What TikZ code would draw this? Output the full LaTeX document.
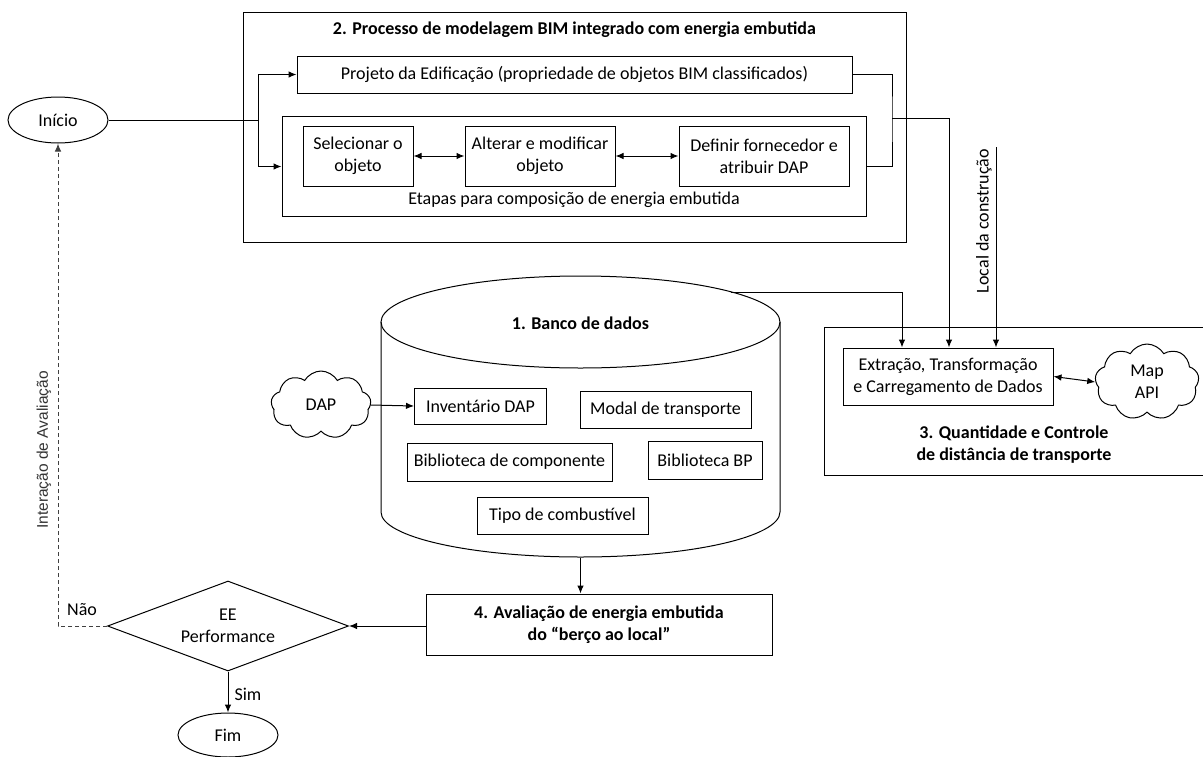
\documentclass[tikz,border=0pt]{standalone}
\usepackage{fontspec}
\setmainfont{Carlito}
\newfontfamily\labelfont{Liberation Sans}
\usetikzlibrary{arrows.meta,shapes.geometric,shapes.symbols}

\begin{document}
\begin{tikzpicture}[x=1pt,y=-1pt,
  line width=1pt,
  font=\fontsize{18}{22}\selectfont,
  box/.style={draw, rectangle, inner sep=0pt, align=center},
  arr/.style={-{Latex[length=8pt,width=6.5pt]}},
  darr/.style={{Latex[length=8pt,width=6.5pt]}-{Latex[length=8pt,width=6.5pt]}},
  term/.style={draw, ellipse, inner sep=0pt},
  cloudy/.style={draw, cloud, cloud puffs=9, cloud puff arc=120, aspect=1.4, inner sep=0pt, align=center},
  heading/.style={font=\fontsize{18}{22}\selectfont\bfseries, align=center},
  plain/.style={inner sep=0pt, align=center},
]
\useasboundingbox (0,0) rectangle (1203,756);

% ---- start terminal
\node[term, minimum width=100pt, minimum height=46pt] (ini) at (58,120) {Início};

% ---- 2. BIM modelling process
\draw (243,12) rectangle (906,242);
\node[heading] (t2) at (574.5,30) {2. Processo de modelagem BIM integrado com energia embutida};
\node[box, minimum width=555pt, minimum height=37pt] (proj) at (574.5,74.5)
  {Projeto da Edificação (propriedade de objetos BIM classificados)};
\node[box, minimum width=584pt, minimum height=100pt] (etapas) at (574,166.5) {};
\node[plain] (etcap) at (574,200) {Etapas para composição de energia embutida};
\node[box, minimum width=110pt, minimum height=60pt] (sel) at (358,156) {Selecionar o\\objeto};
\node[box, minimum width=150pt, minimum height=60pt] (alt) at (540,156) {Alterar e modificar\\objeto};
\node[box, minimum width=170pt, minimum height=60pt] (def) at (764,156) {Definir fornecedor e\\atribuir DAP};
\draw[darr] (sel.east) -- (alt.west);
\draw[darr] (alt.east) -- (def.west);

% split from the start terminal into both branches
\coordinate (jl) at (258,120);
\draw (ini.east) -- (jl);
\draw[arr] (jl) |- (proj.west);
\draw[arr] (jl) |- (etapas.west);

% merge of both branches on the right
\coordinate (jr) at (892,118);
\draw (proj.east) -| (jr) |- (etapas.east);

% ---- 1. database cylinder
\node[minimum width=399pt, minimum height=281pt, inner sep=0pt] (db) at (580.5,416.5) {};
\draw (580.5,322) ellipse [x radius=199.5, y radius=46];
\draw (381,322) -- (381,512) arc[start angle=180, end angle=0, x radius=199.5, y radius=45] -- (780,322);
\node[heading] (t1) at (580.5,323) {1. Banco de dados};
\node[box, minimum width=132pt, minimum height=36pt] (inv) at (480.5,406) {Inventário DAP};
\node[box, minimum width=171pt, minimum height=37pt] (mod) at (665.5,409.5) {Modal de transporte};
\node[box, minimum width=205pt, minimum height=38pt] (bib) at (509.5,462) {Biblioteca de componente};
\node[box, minimum width=114pt, minimum height=38pt] (bp) at (705,460) {Biblioteca BP};
\node[box, minimum width=171pt, minimum height=37pt] (tipo) at (562.5,515.5) {Tipo de combustível};

\node[cloudy, minimum width=100pt, minimum height=68pt] (dap) at (321,405) {DAP};
\draw[arr] (dap.east) -- (inv.west);

% ---- 3. transport quantity and distance
\draw (1205,327) -- (824,327) -- (824,475) -- (1205,475);
\node[box, minimum width=210pt, minimum height=57pt] (etl) at (948,376.5)
  {Extração, Transformação\\e Carregamento de Dados};
\node[cloudy, minimum width=104pt, minimum height=76pt] (map) at (1147,382) {Map\\API};
\draw[darr] (etl.east) -- (map.west);
\node[heading] (t3) at (1014,445) {3. Quantidade e Controle\\de distância de transporte};

\coordinate (dbtap) at (731,292);
\draw[arr] (dbtap) -| ([xshift=-46pt]etl.north);
\draw[arr] (jr) -| ([xshift=1pt]etl.north);
\coordinate (site) at (996,147);
\draw[arr] (site) -- (site |- etl.north);
\node[plain, rotate=90] (sitelbl) at (984,221) {Local da construção};

% ---- 4. cradle-to-site assessment
\node[box, minimum width=346pt, minimum height=61pt, font=\fontsize{18}{22}\selectfont\bfseries] (aval) at (599,624.5)
  {4. Avaliação de energia embutida\\do “berço ao local”};
\draw[arr] (db.south) -- (db.south |- aval.north);

% ---- decision and end
\node[draw, diamond, aspect=2.68, minimum width=241pt, minimum height=90pt, inner sep=0pt, align=center] (dec) at (228,626) {EE\\Performance};
\draw[arr] (aval.west |- dec.east) -- (dec.east);
\node[term, minimum width=100pt, minimum height=44pt] (fim) at (228,735) {Fim};
\draw[arr] (dec.south) -- (fim.north);
\node[plain] (sim) at (248,694) {Sim};

\draw[arr, black!75, dash pattern=on 4pt off 3pt] (dec.west) -| (ini.south);
\node[plain] (nao) at (82,610) {Não};
\node[plain, rotate=90, text=black!80, font=\labelfont\fontsize{15.5}{18}\selectfont] (iter) at (44,450) {Interação de Avaliação};
\end{tikzpicture}
\end{document}
